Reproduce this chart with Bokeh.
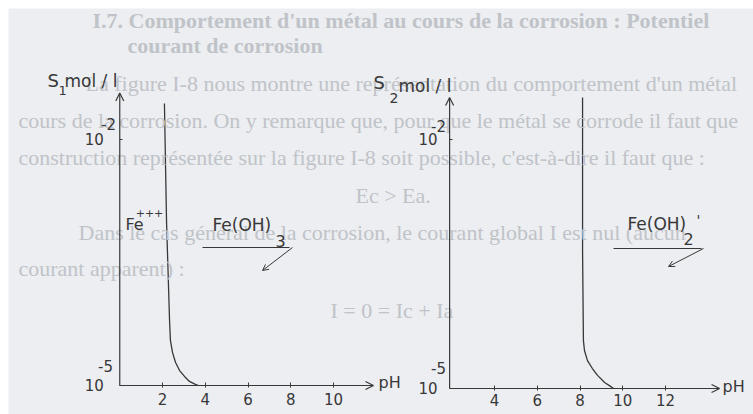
from bokeh.plotting import figure
from bokeh.models import (Range1d, FixedTicker, Label, Arrow, OpenHead, LinearAxis, LogAxis,
                          LogScale, Spacer)
from bokeh.layouts import row, column
from bokeh.embed import file_html
from bokeh.resources import INLINE

# ---------------- data ----------------
# left diagram: solubility S1 (mol/l) of Fe(III) vs pH
ph_left = [2.09, 2.19, 2.33, 2.37, 2.47, 2.61, 2.80, 3.03, 3.26, 3.54, 3.68]
s1_left = [2.75e-2, 9.73e-4, 6.21e-5, 3.54e-5, 2.52e-5, 1.91e-5, 1.52e-5, 1.29e-5, 1.12e-5, 1.03e-5, 1.0e-5]
# right diagram: solubility S2 (mol/l) of Fe(II) vs pH
ph_right = [8.12, 8.12, 8.16, 8.21, 8.35, 8.58, 8.82, 9.15, 9.43, 9.57]
s2_right = [3.2e-2, 4.6e-4, 3.78e-5, 2.87e-5, 2.17e-5, 1.74e-5, 1.44e-5, 1.18e-5, 1.06e-5, 1.0e-5]

x_ticks_left = [2, 4, 6, 8, 10]
x_ticks_right = [4, 6, 8, 10, 12]
y_ticks = [1e-5, 1e-2]
y_tick_base = "10"
y_tick_exponents = ["-5", "-2"]

# axis extents (origin and arrow tips)
x_origin_left, x_tip_left = 0.0, 11.87
x_origin_right, x_tip_right = 1.9, 14.53
y_origin, y_tip_left, y_tip_right = 1e-5, 3.7e-2, 3.2e-2

# faint text of the scanned page behind the diagrams: (text, left x, centre y, style)
page_lines = [
    ("I.7. Comportement d'un métal au cours de la corrosion : Potentiel", 92, 20, "bold"),
    ("courant de corrosion", 127, 45, "bold"),
    ("La figure I-8 nous montre une représentation du comportement d'un métal", 85, 83, "normal"),
    ("cours de la corrosion. On y remarque que, pour que le métal se corrode il faut que", 18, 120, "normal"),
    ("construction représentée sur la figure I-8 soit possible, c'est-à-dire il faut que :", 18, 157, "normal"),
    ("Ec > Ea.", 355, 195, "normal"),
    ("Dans  le  cas  général  de  la  corrosion,  le  courant  global  I  est  nul  (aucun", 78, 232, "normal"),
    ("courant apparent) :", 18, 268, "normal"),
    ("I = 0 = Ic + Ia", 330, 310, "normal"),
]

# ---------------- styling ----------------
BG = "#eceef1"
INK = "#383838"
PAGE_INK = "#c0c3c8"
FONT = "DejaVu Sans"
W, H = 745, 406          # canvas placed at page (8, 8)
OX, OY = 8, 8

p = figure(width=W, height=H,
           x_range=Range1d(-5.205, 29.649), y_range=Range1d(4.428e-6, 0.3959),
           y_axis_type="log", output_backend="svg", toolbar_location=None,
           min_border_left=0, min_border_right=0, min_border_top=0, min_border_bottom=0,
           background_fill_color=BG, border_fill_color=BG, outline_line_color=None)
p.extra_x_ranges = {"r": Range1d(-18.737, 16.117)}
p.extra_y_ranges = {"r": Range1d(4.861e-6, 0.3787)}
p.extra_y_scales = {"r": LogScale()}
p.grid.visible = False


def style_axis(ax, ticks, standoff, tin, tout, overrides=None):
    ax.ticker = FixedTicker(ticks=ticks, minor_ticks=[])
    ax.axis_line_color = None
    ax.major_tick_in = tin
    ax.major_tick_out = tout
    ax.major_tick_line_color = INK
    ax.major_label_standoff = standoff
    ax.major_label_text_font = FONT
    ax.major_label_text_font_size = "15px"
    ax.major_label_text_color = INK
    if overrides:
        ax.major_label_overrides = overrides


# left diagram axes
xa = p.xaxis[0]
xa.fixed_location = y_origin
style_axis(xa, x_ticks_left, 6, 3, 2)
ya = p.yaxis[0]
ya.fixed_location = x_origin_left
style_axis(ya, y_ticks, 16, 3, 0, {t: y_tick_base for t in y_ticks})

# right diagram axes
xr = LinearAxis(x_range_name="r", y_range_name="r", fixed_location=y_origin)
style_axis(xr, x_ticks_right, 4, 3, 2)
p.add_layout(xr, "below")
yr = LogAxis(x_range_name="r", y_range_name="r", fixed_location=x_origin_right)
style_axis(yr, y_ticks, 12, 3, 0, {t: y_tick_base for t in y_ticks})
p.add_layout(yr, "left")


def sx(px):
    return px - OX


def sy(py):
    return OY + H - py


for txt, px, py, st in page_lines:
    p.add_layout(Label(x=sx(px), y=sy(py), x_units="screen", y_units="screen", text=txt,
                       text_font="Liberation Serif", text_font_size="22px", text_font_style=st,
                       text_color=PAGE_INK, text_align="left", text_baseline="middle"))


def put(px, py, txt, size, align="left"):
    p.add_layout(Label(x=sx(px), y=sy(py), x_units="screen", y_units="screen", text=txt,
                       text_font=FONT, text_font_size=f"{size}px", text_color=INK,
                       text_align=align, text_baseline="middle"))


def seg(x0, y0, x1, y1, head=False):
    p.add_layout(Arrow(x_start=sx(x0), y_start=sy(y0), x_end=sx(x1), y_end=sy(y1),
                       start_units="screen", end_units="screen", line_color=INK, line_width=1,
                       end=OpenHead(size=6, line_color=INK, line_width=1) if head else None))


def axes_arrows(x0, xt, yt, rng):
    kw = dict(line_color=INK, line_width=1.2, x_range_name=rng, y_range_name=rng)
    p.add_layout(Arrow(x_start=x0, y_start=y_origin, x_end=xt, y_end=y_origin,
                       end=OpenHead(size=8, line_color=INK, line_width=1.2), **kw))
    p.add_layout(Arrow(x_start=x0, y_start=y_origin, x_end=x0, y_end=yt,
                       end=OpenHead(size=8, line_color=INK, line_width=1.2), **kw))


# ---------------- left diagram ----------------
axes_arrows(x_origin_left, x_tip_left, y_tip_left, "default")
p.line(ph_left, s1_left, line_color=INK, line_width=1.3)
put(47, 80, "S", 18)
put(58, 90, "1", 13)
put(64, 80, "mol / l", 17)
put(108, 123, y_tick_exponents[1], 15, "center")
put(105, 365, y_tick_exponents[0], 15, "center")
put(125, 224, "Fe", 16)
put(149, 212, "+++", 11, "center")
put(212, 224, "Fe(OH)", 17)
put(275, 240, "3", 16)
put(378, 382, "pH", 16)
seg(202, 247, 289, 247)
seg(292, 247, 262, 270, head=True)

# ---------------- right diagram ----------------
axes_arrows(x_origin_right, x_tip_right, y_tip_right, "r")
p.line(ph_right, s2_right, line_color=INK, line_width=1.3, x_range_name="r", y_range_name="r")
put(373, 82, "S", 18)
put(389, 97, "2", 14)
put(398, 85, "mol / l", 17)
put(438, 125, y_tick_exponents[1], 15, "center")
put(438, 367, y_tick_exponents[0], 15, "center")
put(627, 223, "Fe(OH)", 17)
put(683, 238, "2", 16)
put(696, 219, "'", 14)
put(722, 386, "pH", 16)
seg(613, 248, 701, 248)
seg(703, 248, 668, 266, head=True)

layout = column(Spacer(width=753, height=OY), row(Spacer(width=OX, height=H), p))
open("out.html", "w").write(file_html(layout, INLINE))
